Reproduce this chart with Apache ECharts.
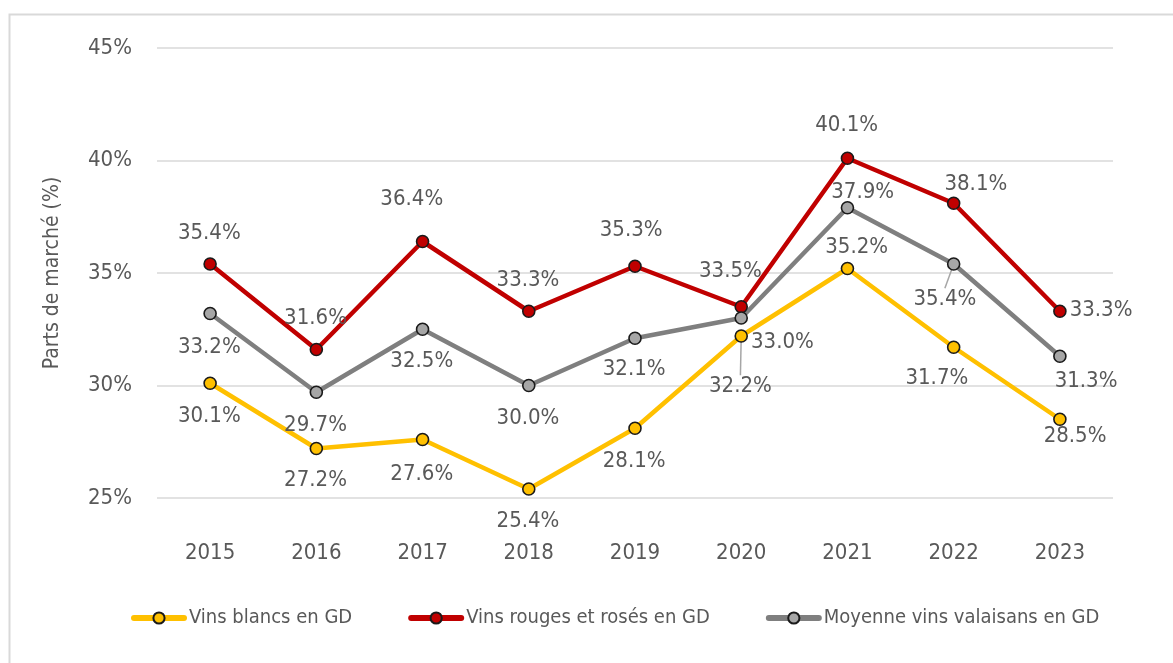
<!DOCTYPE html>
<html>
<head>
<meta charset="utf-8">
<script src="https://cdn.jsdelivr.net/npm/echarts@6/dist/echarts.min.js"></script>
<style>
    html, body { margin: 0; padding: 0; background: #fff; }
    #chart { width: 1173px; height: 663px; }
</style>
</head>
<body>
<div id="chart"></div>
<script>
    // données
    const years = ['2015', '2016', '2017', '2018', '2019', '2020', '2021', '2022', '2023'];
    const blancs = [30.1, 27.2, 27.6, 25.4, 28.1, 32.2, 35.2, 31.7, 28.5];
    const rouges = [35.4, 31.6, 36.4, 33.3, 35.3, 33.5, 40.1, 38.1, 33.3];
    const moyenne = [33.2, 29.7, 32.5, 30.0, 32.1, 33.0, 37.9, 35.4, 31.3];
    const yTicks = [25, 30, 35, 40, 45];

    // placement des étiquettes (décalage du centre de l'étiquette par rapport au point)
    const blancsLbl = [[0, 34], [0, 33], [0, 36], [0, 33], [0, 34], [0, 51], [10, -20], [-16, 32], [16, 18]];
    const rougesLbl = [[0, -30], [0, -30], [-10, -41], [0, -30], [-3, -35], [-10, -35], [0, -32], [23, -18], [42, 0]];
    const moyenneLbl = [[0, 35], [0, 34], [0, 33], [0, 34], [0, 32], [42, 25], [16, -15], [-8, 36], [27, 26]];
    const leaders = { blancs: [5], moyenne: [7] };

    const FONT = "'Liberation Sans Narrow', 'DejaVu Sans Condensed', Roboto, sans-serif";
    const TXT = '#595959';
    const SYM = 12;

    function buildData(values, offsets, leaderIdx) {
        return values.map(function (v, i) {
            const o = offsets[i];
            return {
                value: v,
                label: {
                    position: [SYM / 2 + o[0], SYM / 2 + o[1]],
                    align: 'center',
                    verticalAlign: 'middle'
                },
                labelLine: { show: leaderIdx.indexOf(i) >= 0 }
            };
        });
    }

    function makeSeries(name, values, offsets, leaderIdx, lineColor, fillColor) {
        return {
            name: name,
            type: 'line',
            data: buildData(values, offsets, leaderIdx),
            symbol: 'circle',
            symbolSize: SYM,
            lineStyle: { color: lineColor, width: 4.5 },
            itemStyle: { color: fillColor, borderColor: '#1a1a1a', borderWidth: 1.6 },
            label: {
                show: true,
                fontFamily: FONT,
                fontSize: 22,
                color: TXT,
                formatter: function (p) { return p.value.toFixed(1) + '%'; }
            },
            labelLine: { lineStyle: { color: '#A6A6A6', width: 1.5 }, smooth: false },
            emphasis: { disabled: true },
            z: 3
        };
    }

    let myChart = echarts.init(document.getElementById('chart'));
    myChart.setOption({
        animation: false,
        textStyle: { fontFamily: FONT, color: TXT },
        graphic: [{
            type: 'rect',
            left: 7, top: 12,
            shape: { width: 1220, height: 700 },
            style: { fill: 'none', stroke: '#D9D9D9', lineWidth: 2 },
            silent: true
        }],
        grid: { left: 157, right: 60, top: 48, bottom: 165 },
        legend: {
            bottom: 30,
            left: 126,
            itemWidth: 50,
            itemHeight: 14,
            itemGap: 56,
            lineStyle: { width: 6, cap: 'round' },
            textStyle: { fontFamily: FONT, fontSize: 20, color: TXT },
            data: ['Vins blancs en GD', 'Vins rouges et rosés en GD', 'Moyenne vins valaisans en GD']
        },
        xAxis: {
            type: 'category',
            data: years,
            boundaryGap: true,
            axisLine: { show: false },
            axisTick: { show: false },
            axisLabel: { fontFamily: FONT, fontSize: 22, color: TXT, margin: 44 }
        },
        yAxis: {
            type: 'value',
            min: yTicks[0],
            max: yTicks[yTicks.length - 1],
            interval: 5,
            name: 'Parts de marché (%)',
            nameLocation: 'middle',
            nameRotate: 90,
            nameGap: 94,
            nameTextStyle: { fontFamily: FONT, fontSize: 21, color: TXT },
            axisLine: { show: false },
            axisTick: { show: false },
            axisLabel: { fontFamily: FONT, fontSize: 22, color: TXT, margin: 25, formatter: '{value}%' },
            splitLine: { lineStyle: { color: '#D9D9D9', width: 1.5 } }
        },
        series: [
            makeSeries('Vins blancs en GD', blancs, blancsLbl, leaders.blancs, '#FFC000', '#FFC000'),
            makeSeries('Vins rouges et rosés en GD', rouges, rougesLbl, [], '#C00000', '#C00000'),
            makeSeries('Moyenne vins valaisans en GD', moyenne, moyenneLbl, leaders.moyenne, '#7F7F7F', '#A6A6A6')
        ]
    });
</script>
</body>
</html>
